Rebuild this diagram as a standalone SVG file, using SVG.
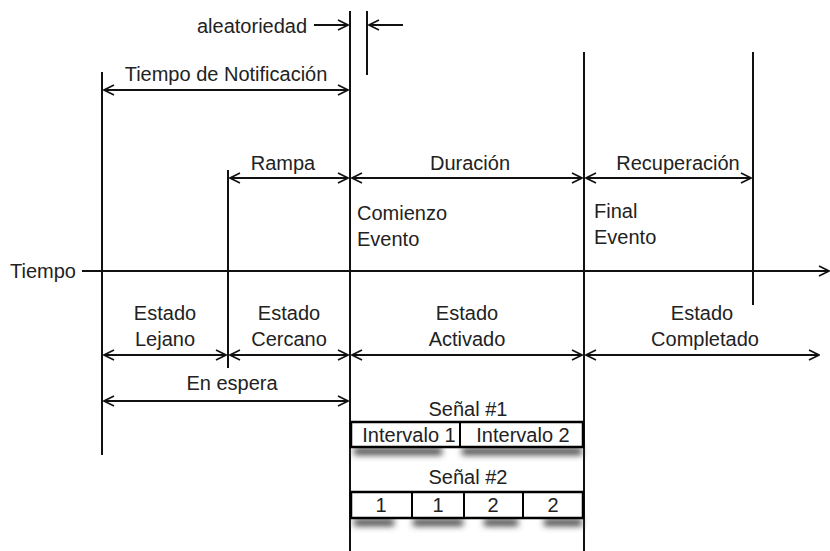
<svg xmlns="http://www.w3.org/2000/svg" width="830" height="551" viewBox="0 0 830 551">
<style>
text{font-family:"Liberation Sans",Arial,sans-serif;font-size:20px;fill:#222}
.c{text-anchor:middle}
.ln{stroke:#111;stroke-width:2;fill:none}
.ar{stroke:#111;stroke-width:2;fill:none;marker-end:url(#h)}
.da{stroke:#111;stroke-width:2;fill:none;marker-start:url(#t);marker-end:url(#h)}
.box{fill:#fff;stroke:#000;stroke-width:2.5}
.sh{fill:#444;filter:url(#b)}
</style>
<defs>
<marker id="h" viewBox="0 0 12 12" refX="11" refY="6" markerWidth="12" markerHeight="12" markerUnits="userSpaceOnUse" orient="auto"><path d="M1,1 L11,6 L1,11" fill="none" stroke="#111" stroke-width="1.6"/></marker>
<marker id="t" viewBox="0 0 12 12" refX="1" refY="6" markerWidth="12" markerHeight="12" markerUnits="userSpaceOnUse" orient="auto"><path d="M11,1 L1,6 L11,11" fill="none" stroke="#111" stroke-width="1.6"/></marker>
<filter id="b" x="-20%" y="-100%" width="140%" height="300%"><feGaussianBlur stdDeviation="3"/></filter>
</defs>
<g id="connectors">
<line class="ln" x1="102" y1="72" x2="102" y2="455"/>
<line class="ln" x1="228" y1="170" x2="228" y2="368"/>
<line class="ln" x1="350" y1="11" x2="350" y2="551"/>
<line class="ln" x1="367" y1="11" x2="367" y2="75"/>
<line class="ln" x1="584" y1="52" x2="584" y2="551"/>
<line class="ln" x1="753" y1="52" x2="753" y2="305"/>
<line class="ar" x1="82" y1="271" x2="829" y2="271"/>
<line class="ar" x1="314" y1="25" x2="348" y2="25"/>
<line class="ar" x1="403" y1="25" x2="369" y2="25"/>
<line class="da" x1="104" y1="90" x2="348" y2="90"/>
<line class="da" x1="230" y1="178" x2="348" y2="178"/>
<line class="da" x1="352" y1="178" x2="582" y2="178"/>
<line class="da" x1="586" y1="178" x2="751" y2="178"/>
<line class="da" x1="104" y1="355" x2="226" y2="355"/>
<line class="da" x1="230" y1="355" x2="348" y2="355"/>
<line class="da" x1="352" y1="355" x2="582" y2="355"/>
<line class="da" x1="586" y1="355" x2="819" y2="355"/>
<line class="da" x1="104" y1="401" x2="348" y2="401"/>
</g>
<g id="labels">
<text x="197" y="33">aleatoriedad</text>
<text class="c" x="226" y="81">Tiempo de Notificación</text>
<text class="c" x="283" y="170">Rampa</text>
<text class="c" x="470" y="170">Duración</text>
<text class="c" x="678" y="170">Recuperación</text>
<text x="357" y="220">Comienzo</text>
<text x="357" y="246">Evento</text>
<text x="594" y="218">Final</text>
<text x="594" y="244">Evento</text>
<text x="10" y="278">Tiempo</text>
<text class="c" x="165" y="320">Estado</text>
<text class="c" x="165" y="346">Lejano</text>
<text class="c" x="289" y="320">Estado</text>
<text class="c" x="289" y="346">Cercano</text>
<text class="c" x="467" y="320">Estado</text>
<text class="c" x="467" y="346">Activado</text>
<text class="c" x="702" y="320">Estado</text>
<text class="c" x="705" y="346">Completado</text>
<text class="c" x="232" y="390">En espera</text>
</g>
<g id="senal1">
<text class="c" x="468" y="416">Señal #1</text>
<rect class="sh" x="354" y="448" width="88" height="7"/>
<rect class="sh" x="462" y="448" width="120" height="7"/>
<rect class="box" x="351" y="422" width="232" height="25"/>
<line x1="460" y1="422" x2="460" y2="447" stroke="#000" stroke-width="2"/>
<text class="c" x="409" y="442">Intervalo 1</text>
<text class="c" x="523" y="442">Intervalo 2</text>
</g>
<g id="senal2">
<text class="c" x="468" y="484">Señal #2</text>
<rect class="sh" x="354" y="519" width="40" height="7"/>
<rect class="sh" x="413" y="519" width="50" height="7"/>
<rect class="sh" x="484" y="519" width="34" height="7"/>
<rect class="sh" x="544" y="519" width="38" height="7"/>
<rect class="box" x="351" y="492" width="232" height="26"/>
<line x1="412" y1="492" x2="412" y2="518" stroke="#000" stroke-width="2"/>
<line x1="464" y1="492" x2="464" y2="518" stroke="#000" stroke-width="2"/>
<line x1="523" y1="492" x2="523" y2="518" stroke="#000" stroke-width="2"/>
<text class="c" x="381" y="512">1</text>
<text class="c" x="438" y="512">1</text>
<text class="c" x="493" y="512">2</text>
<text class="c" x="553" y="512">2</text>
</g>
</svg>
